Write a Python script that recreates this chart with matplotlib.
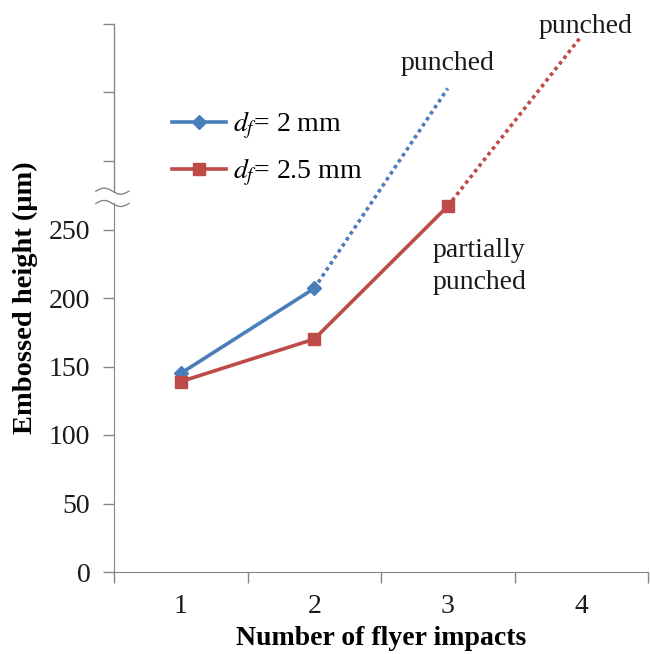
import numpy as np
import matplotlib
matplotlib.use('Agg')
import matplotlib.pyplot as plt

plt.rcParams['font.family'] = ['Liberation Serif', 'DejaVu Serif']
plt.rcParams['mathtext.fontset'] = 'stix'

impacts = [1, 2, 3, 4]
blue_x = [1, 2]
blue_h = [145, 207]
blue_ext_x = [2, 3]
blue_ext_h = [207, 353]
red_x = [1, 2, 3]
red_h = [139, 170, 267]
red_ext_x = [3, 4]
red_ext_h = [267, 391]
y_ticks = [0, 50, 100, 150, 200, 250, 300, 350, 400]
y_labels = ['0', '50', '100', '150', '200', '250', '', '', '']

blue = '#4a7ebb'
red = '#be4b48'
axis_col = '#868686'
txt_col = '#1a1a1a'

fig = plt.figure(figsize=(6.5, 6.54), dpi=100)
ax = fig.add_axes([114 / 650, 1 - 572 / 654, 534 / 650, 548 / 654])

ax.plot(blue_x, blue_h, color=blue, lw=2.6, marker='D', ms=7, label=r'$d_f$= 2 mm')
ax.plot(red_x, red_h, color=red, lw=2.6, marker='s', ms=8, label=r'$d_f$= 2.5 mm')
ax.plot(blue_ext_x, blue_ext_h, color=blue, lw=2.6, ls=(0, (1, 1)))
ax.plot(red_ext_x, red_ext_h, color=red, lw=2.6, ls=(0, (1, 1)))

ax.set_xlim(0.5, 4.5)
ax.set_ylim(0, 400)

ax.set_xticks([0.5, 1.5, 2.5, 3.5, 4.5])
ax.set_xticklabels([])
ax.set_xticks(impacts, minor=True)
ax.set_xticklabels([str(i) for i in impacts], minor=True)
ax.tick_params(axis='x', which='major', length=8, width=1, color=axis_col, direction='out')
ax.tick_params(axis='x', which='minor', length=0, pad=16, labelsize=20, labelcolor=txt_col)

ax.set_yticks(y_ticks)
ax.set_yticklabels(y_labels)
ax.tick_params(axis='y', length=8, width=1, color=axis_col, direction='out', pad=9,
               labelsize=20, labelcolor=txt_col)

for s in ['top', 'right']:
    ax.spines[s].set_visible(False)
ax.spines['bottom'].set_color(axis_col)
ax.spines['left'].set_color(axis_col)
ax.spines['left'].set_bounds(0, 269)

# upper part of the y axis above the break
ax.plot([0, 0], [278 / 400, 1], transform=ax.transAxes, color=axis_col, lw=1, clip_on=False)

# axis break marks
t = np.linspace(-1, 1, 60)
xs = -0.034 + (t + 1) / 2 * 0.062
amp = 3.0 / 548
for yb in [278, 269]:
    ys = yb / 400 - amp * np.sin(np.pi * t)
    ax.plot(xs, ys, transform=ax.transAxes, color=axis_col, lw=1, clip_on=False)

ax.set_xlabel('Number of flyer impacts', fontsize=20, fontweight='bold', labelpad=5)
ax.set_ylabel('Embossed height (μm)', fontsize=20.5, fontweight='bold', labelpad=8)

ax.text(3.0, 371, 'punched', fontsize=20, ha='center', va='center', color=txt_col)
ax.text(4.03, 398, 'punched', fontsize=20, ha='center', va='center', color=txt_col, clip_on=False)
ax.text(2.89, 223, 'partially\npunched', fontsize=20, ha='left', va='center',
        color=txt_col, linespacing=1.4)

ax.legend(loc='upper left', bbox_to_anchor=(0.108, 0.843), frameon=False, fontsize=20,
          handlelength=1.95, handletextpad=0.25, labelspacing=0.55, borderpad=0,
          borderaxespad=0)

fig.savefig('out.png', dpi=100)
